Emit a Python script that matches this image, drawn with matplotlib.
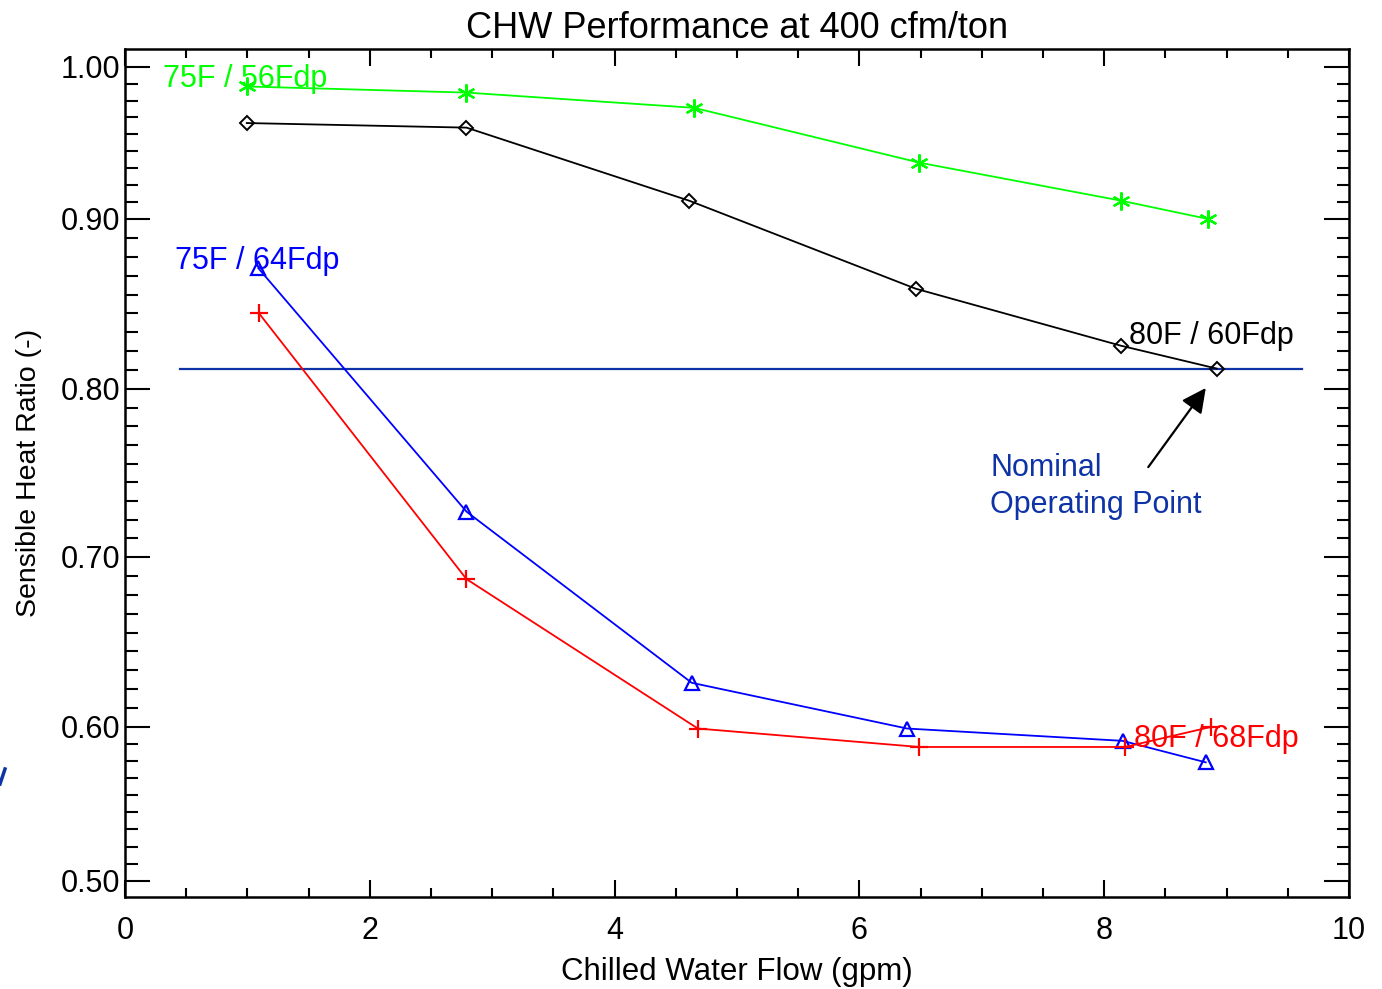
import numpy as np
import matplotlib
matplotlib.use("Agg")
import matplotlib.pyplot as plt
from matplotlib.lines import Line2D
from matplotlib.ticker import FixedLocator, FormatStrFormatter

plt.rcParams['font.family'] = ['Liberation Sans', 'DejaVu Sans']

# ---- data ----
x_green = [1.00, 2.79, 4.65, 6.49, 8.14, 8.85]
y_green = [0.987, 0.983, 0.973, 0.937, 0.912, 0.900]
x_black = [0.995, 2.79, 4.61, 6.46, 8.135, 8.92]
y_black = [0.963, 0.960, 0.912, 0.859, 0.8255, 0.812]
x_blue = [1.09, 2.79, 4.63, 6.39, 8.15, 8.83]
y_blue = [0.871, 0.727, 0.626, 0.599, 0.591, 0.577]
x_red = [1.095, 2.79, 4.68, 6.49, 8.17, 8.87]
y_red = [0.8445, 0.687, 0.599, 0.587, 0.587, 0.600]

nominal_y = 0.812
nominal_x = [0.45, 9.62]

title = "CHW Performance at 400 cfm/ton"
xlabel = "Chilled Water Flow (gpm)"
ylabel = "Sensible Heat Ratio (-)"
xticks = [0, 2, 4, 6, 8, 10]
yticks = [0.50, 0.60, 0.70, 0.80, 0.90, 1.00]

# ---- piecewise scale reproducing the uneven tick spacing of the original ----
knot_v = np.array([0.4, 0.5, 0.6, 0.7, 0.8, 0.9, 1.0, 1.1])
knot_u = np.array([-137.4, 16.3, 170.0, 340.0, 508.0, 678.0, 830.3, 982.6])

def fwd(v):
    return np.interp(v, knot_v, knot_u)

def inv(u):
    return np.interp(u, knot_u, knot_v)

fig = plt.figure(figsize=(13.82, 9.89), dpi=100)
ax = fig.add_axes([125 / 1382, 92 / 989, 1224 / 1382, 848 / 989])
ax.set_yscale('function', functions=(fwd, inv))
ax.set_xlim(0, 10)
ax.set_ylim(float(inv(0.0)), float(inv(848.0)))

lw = 1.3
ax.plot(nominal_x, [nominal_y, nominal_y], color='#0d33a6', lw=1.6)
ax.plot(x_green, y_green, color='#00ff00', lw=lw, marker=(6, 2, 0), ms=13, mew=1.6)
ax.plot(x_black, y_black, color='black', lw=lw, marker='D', ms=7.5, mfc='none', mew=1.4)
ax.plot(x_blue, y_blue, color='#0000ff', lw=lw, marker='^', ms=10.5, mfc='none', mew=1.6)
ax.plot(x_red, y_red, color='#ff0000', lw=lw, marker='+', ms=13, mew=1.6)

fs = 22
ax.text(0.313, 0.9869, "75F / 56Fdp", color='#00ff00', fontsize=fs, va='baseline', ha='left')
ax.text(0.408, 0.8706, "75F / 64Fdp", color='#0000ff', fontsize=fs, va='baseline', ha='left')
ax.text(8.20, 0.8263, "80F / 60Fdp", color='black', fontsize=fs, va='baseline', ha='left')
ax.text(8.245, 0.5872, "80F / 68Fdp", color='#ff0000', fontsize=fs, va='baseline', ha='left')
ax.text(7.07, 0.7482, "Nominal", color='#0d33a6', fontsize=fs, va='baseline', ha='left')
ax.text(7.07, 0.7262, "Operating Point", color='#0d33a6', fontsize=fs, va='baseline', ha='left')

ax.annotate('', xy=(8.83, 0.8006), xytext=(8.36, 0.7535),
            arrowprops=dict(arrowstyle='-|>', color='black', lw=1.6,
                            mutation_scale=37, shrinkA=0, shrinkB=0))

# ticks
ax.set_xticks(xticks)
ax.xaxis.set_minor_locator(FixedLocator(np.arange(0, 10.01, 0.5)))
ax.set_yticks(yticks)
minor_y = [yticks[0] + i * 0.1 / 9 for i in range(46)]
ax.yaxis.set_minor_locator(FixedLocator(minor_y))
ax.yaxis.set_major_formatter(FormatStrFormatter('%.2f'))
ax.xaxis.set_major_formatter(FormatStrFormatter('%d'))

ax.tick_params(axis='both', which='both', direction='in', top=True, right=True, width=1.5, colors='black')
ax.tick_params(axis='x', which='major', length=12, pad=14, labelsize=fs)
ax.tick_params(axis='x', which='minor', length=6.5)
ax.tick_params(axis='y', which='major', length=18, pad=3.5, labelsize=fs)
ax.tick_params(axis='y', which='minor', length=9)
for s in ax.spines.values():
    s.set_linewidth(1.8)

ax.set_title(title, fontsize=26, pad=8)
ax.set_xlabel(xlabel, fontsize=22.5)
ax.xaxis.set_label_coords(0.5, -0.071)
ax.xaxis.label.set_va('top')
ax.set_ylabel(ylabel, fontsize=20.5)
ax.yaxis.set_label_coords(-0.068, 0.5)

# small clipped fragment at the left edge of the original
fig.add_artist(Line2D([0.0 / 1382, 5 / 1382], [(989 - 784) / 989, (989 - 769) / 989],
                      color='#0d33a6', lw=2.5, transform=fig.transFigure))

fig.savefig('out.png', dpi=100)
